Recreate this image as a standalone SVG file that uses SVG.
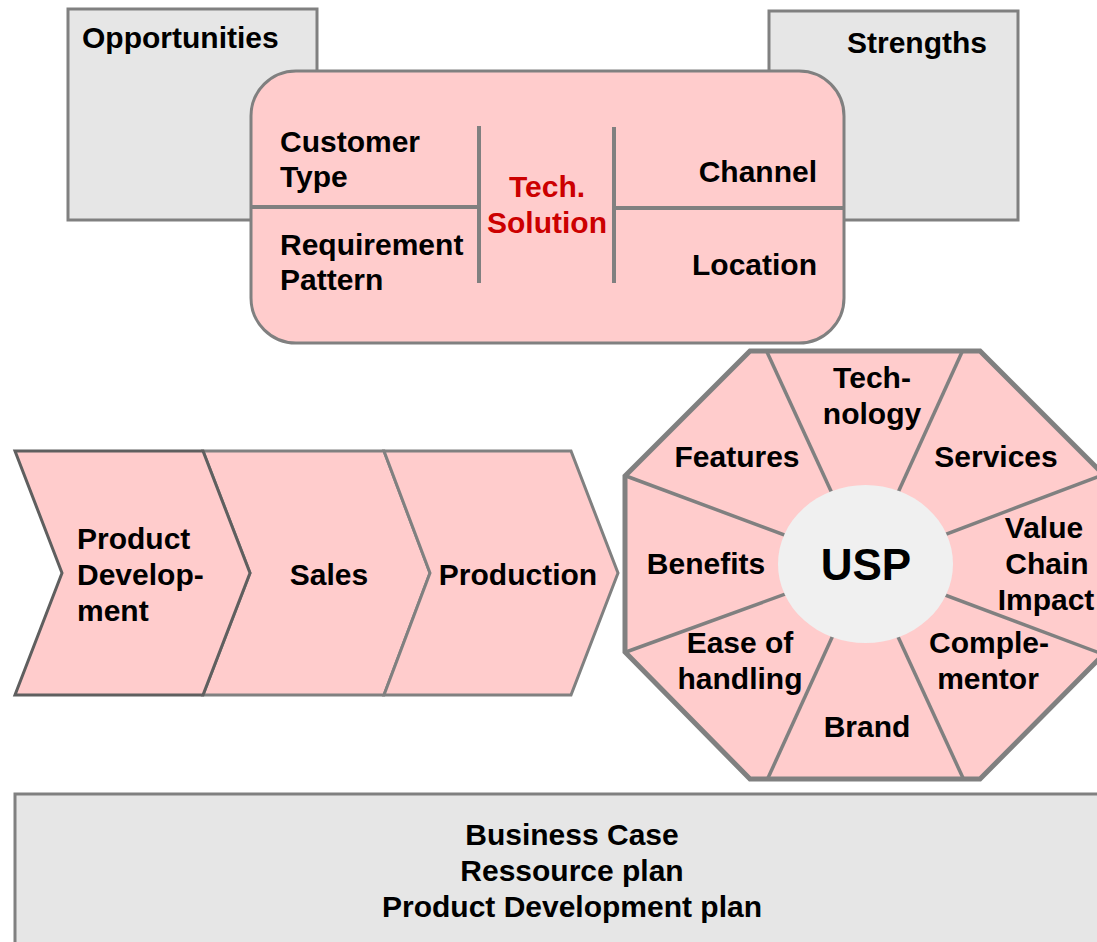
<svg xmlns="http://www.w3.org/2000/svg" width="1097" height="942" viewBox="0 0 1097 942">
<style>
.t{font-family:"Liberation Sans",Arial,sans-serif;font-weight:bold;font-size:30px;fill:#000}
.c{text-anchor:middle}
.e{text-anchor:end}
.red{fill:#cc0000}
.gray{fill:#e6e6e6;stroke:#808080;stroke-width:3}
.pink{fill:#ffcccc;stroke:#808080;stroke-width:3}
.div{stroke:#808080;stroke-width:4;fill:none}
.spoke{stroke:#808080;stroke-width:3.5;fill:none}
</style>
<rect width="1097" height="942" fill="#fff"/>
<g id="opportunities">
<rect class="gray" x="68" y="9" width="249" height="211"/>
<text class="t" x="82" y="48">Opportunities</text>
</g>
<g id="strengths">
<rect class="gray" x="769" y="11" width="249" height="209"/>
<text class="t" x="847" y="53">Strengths</text>
</g>
<g id="segmentation">
<rect class="pink" x="251" y="71" width="593" height="272" rx="45" ry="45"/>
<line class="div" x1="251" y1="207" x2="478" y2="207"/>
<line class="div" x1="614" y1="208" x2="844" y2="208"/>
<line class="div" x1="479" y1="126" x2="479" y2="283"/>
<line class="div" x1="614" y1="127" x2="614" y2="283"/>
<text class="t" x="280" y="152">Customer</text>
<text class="t" x="280" y="187">Type</text>
<text class="t" x="280" y="255">Requirement</text>
<text class="t" x="280" y="290">Pattern</text>
<text class="t c red" x="547" y="197">Tech.</text>
<text class="t c red" x="547" y="233">Solution</text>
<text class="t e" x="817" y="182">Channel</text>
<text class="t e" x="817" y="275">Location</text>
</g>
<g id="chevron-sales">
<polygon class="pink" points="203,451 384,451 430,573 384,695 203,695 250,573"/>
<text class="t c" x="329" y="585">Sales</text>
</g>
<g id="chevron-production">
<polygon class="pink" points="384,451 571,451 618,573 571,695 384,695 430,573"/>
<text class="t c" x="518" y="585">Production</text>
</g>
<g id="chevron-product-development">
<polygon points="15,451 203,451 250,573 203,695 15,695 62,573" fill="#ffcccc" stroke="#5f5f5f" stroke-width="3"/>
<text class="t" x="77" y="549">Product</text>
<text class="t" x="77" y="585">Develop-</text>
<text class="t" x="77" y="621">ment</text>
</g>
<g id="usp-octagon">
<polygon points="750,351 980,351 1106,477 1106,652 980,779 750,779 625,652 625,476" fill="#ffcccc" stroke="#808080" stroke-width="5"/>
<line class="spoke" x1="767" y1="352" x2="865" y2="565"/>
<line class="spoke" x1="962" y1="352" x2="865" y2="565"/>
<line class="spoke" x1="1105" y1="474" x2="865" y2="565"/>
<line class="spoke" x1="1105" y1="655" x2="865" y2="565"/>
<line class="spoke" x1="963" y1="778" x2="865" y2="565"/>
<line class="spoke" x1="768" y1="778" x2="865" y2="565"/>
<line class="spoke" x1="626" y1="652" x2="865" y2="565"/>
<line class="spoke" x1="626" y1="476" x2="865" y2="565"/>
<ellipse cx="865.5" cy="564" rx="87.5" ry="79" fill="#f0f0f0"/>
<text class="t c" x="872" y="388">Tech-</text>
<text class="t c" x="872" y="424">nology</text>
<text class="t c" x="737" y="467">Features</text>
<text class="t c" x="996" y="467">Services</text>
<text class="t c" x="706" y="574">Benefits</text>
<text class="t c" x="866" y="580" style="font-size:44px">USP</text>
<text class="t c" x="1044" y="538">Value</text>
<text class="t c" x="1047" y="574">Chain</text>
<text class="t c" x="1046" y="610">Impact</text>
<text class="t c" x="989" y="653">Comple-</text>
<text class="t c" x="988" y="689">mentor</text>
<text class="t c" x="867" y="737">Brand</text>
<text class="t c" x="740" y="653">Ease of</text>
<text class="t c" x="740" y="689">handling</text>
</g>
<g id="business-case">
<rect class="gray" x="15" y="794" width="1100" height="160"/>
<text class="t c" x="572" y="845">Business Case</text>
<text class="t c" x="572" y="881">Ressource plan</text>
<text class="t c" x="572" y="917">Product Development plan</text>
</g>
<g id="connectors"></g>
</svg>
